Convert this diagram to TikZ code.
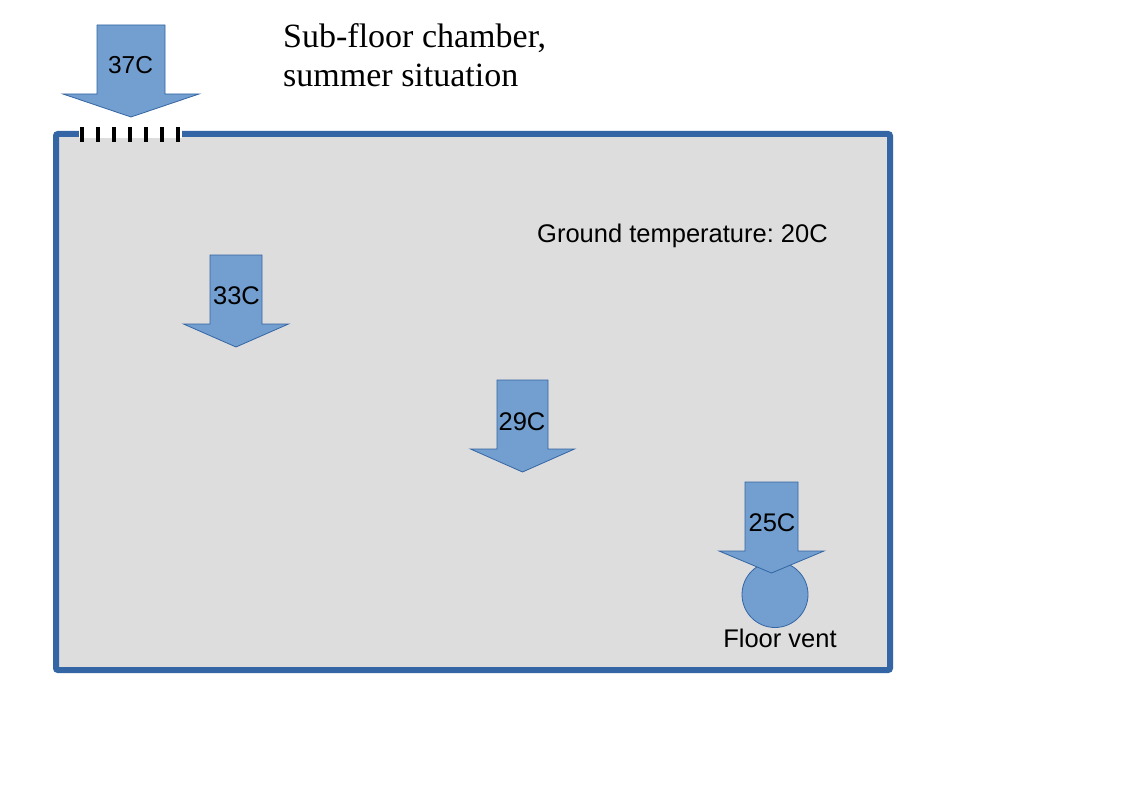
\documentclass[tikz,border=0pt]{standalone}
\usepackage{fontspec}
\setmainfont{Liberation Serif}
\newfontfamily\sansf{Liberation Sans}
\frenchspacing
\definecolor{bblue}{HTML}{3465A4}
\definecolor{afill}{HTML}{729FCF}
\definecolor{chamber}{HTML}{DDDDDD}
\tikzset{
  lbl/.style={font=\sansf\fontsize{25.5}{30}\selectfont, inner sep=0pt, anchor=base},
  arrowshape/.style={fill=afill, draw=bblue, line width=0.8pt, line join=miter},
  pics/downarrow/.style args={#1/#2/#3/#4}{code={
    \path[arrowshape] (-#1,0) -- (#1,0) -- (#1,#3) -- (#2,#3) -- (0,#3+#4) -- (-#2,#3) -- (-#1,#3) -- cycle;
  }}
}
\begin{document}
\begin{tikzpicture}[x=1pt,y=-1pt]
\useasboundingbox (0,0) rectangle (1123,794);
\fill[white] (0,0) rectangle (1123,794);
\draw[line width=6pt, draw=bblue, fill=chamber, rounded corners=2pt] (56,134) rectangle (890,670);
\fill[white] (79,130) rectangle (182,138.5);
\foreach \x in {82,98,114,130,146,162,178}
  \draw[line width=3.8pt, black] (\x,127) -- (\x,142);
\pic at (131,25) {downarrow={34/68/69/23}};
\pic at (236,255) {downarrow={26/52.5/69/23}};
\pic at (522.5,380) {downarrow={25.5/52/69/23}};
\draw[arrowshape] (775,594.5) ellipse [x radius=33, y radius=33];
\pic at (771.5,482) {downarrow={26.5/52.5/69/22}};
\node[lbl, font=\sansf\fontsize{24.5}{30}\selectfont] (t37) at (130.5,74) {37C};
\node[lbl] (t33) at (236.5,304) {33C};
\node[lbl] (t29) at (522,430) {29C};
\node[lbl] (t25) at (772,531) {25C};
\node[lbl] (vent) at (780,647) {Floor vent};
\node[lbl, anchor=base west] (ground) at (537,242) {Ground temperature: 20C};
\node[font=\fontsize{34}{39}\selectfont, inner sep=0pt, anchor=base west, align=left] (title) at (283,87) {Sub-floor chamber,\\summer situation};
\end{tikzpicture}
\end{document}
